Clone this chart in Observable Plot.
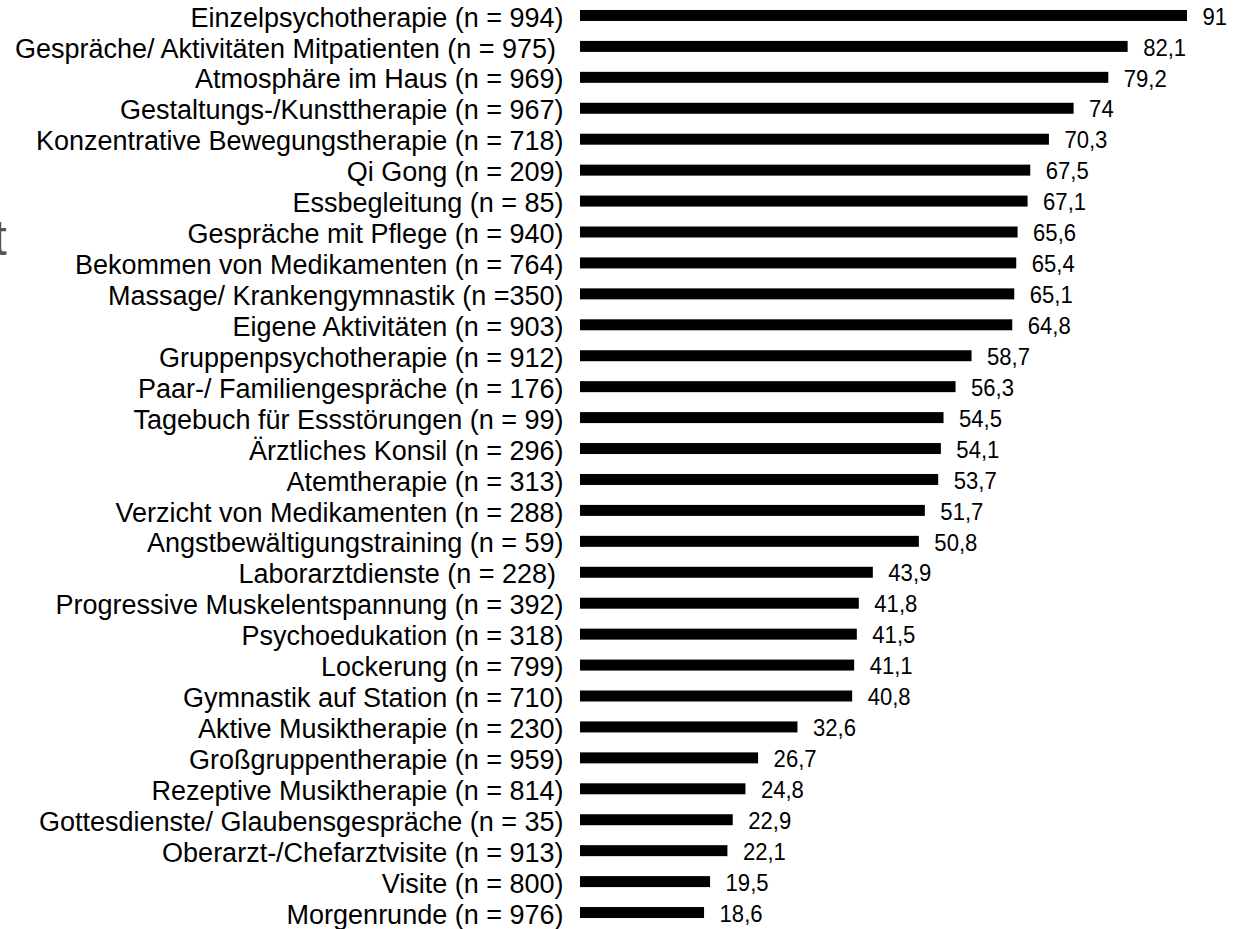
<!DOCTYPE html>
<html>
<head>
<meta charset="utf-8">
<script src="https://cdn.jsdelivr.net/npm/d3@7"></script>
<script src="https://cdn.jsdelivr.net/npm/@observablehq/plot@0.6"></script>
<style>
  html, body { margin: 0; padding: 0; background: #fff; overflow: hidden; }
  #wrap { position: relative; width: 1243px; height: 929px; }
  #frag { position: absolute; left: -7px; top: 213px; font-family: "Liberation Sans", Arial, sans-serif; font-size: 50px; color: #555; line-height: 1; }
  svg text { white-space: pre; }
</style>
</head>
<body>
<div id="wrap">
  <div id="frag">t</div>
  <div id="chart"></div>
</div>
<script>
const categories = [
  "Einzelpsychotherapie (n = 994)",
  "Gespräche/ Aktivitäten Mitpatienten (n = 975) ",
  "Atmosphäre im Haus (n = 969)",
  "Gestaltungs-/Kunsttherapie (n = 967)",
  "Konzentrative Bewegungstherapie (n = 718)",
  "Qi Gong (n = 209)",
  "Essbegleitung (n = 85)",
  "Gespräche mit Pflege (n = 940)",
  "Bekommen von Medikamenten (n = 764)",
  "Massage/ Krankengymnastik (n =350)",
  "Eigene Aktivitäten (n = 903)",
  "Gruppenpsychotherapie (n = 912)",
  "Paar-/ Familiengespräche (n = 176)",
  "Tagebuch für Essstörungen (n = 99)",
  "Ärztliches Konsil (n = 296)",
  "Atemtherapie (n = 313)",
  "Verzicht von Medikamenten (n = 288)",
  "Angstbewältigungstraining (n = 59)",
  "Laborarztdienste (n = 228) ",
  "Progressive Muskelentspannung (n = 392)",
  "Psychoedukation (n = 318)",
  "Lockerung (n = 799)",
  "Gymnastik auf Station (n = 710)",
  "Aktive Musiktherapie (n = 230)",
  "Großgruppentherapie (n = 959)",
  "Rezeptive Musiktherapie (n = 814)",
  "Gottesdienste/ Glaubensgespräche (n = 35)",
  "Oberarzt-/Chefarztvisite (n = 913)",
  "Visite (n = 800)",
  "Morgenrunde (n = 976)"
];
const values = [91, 82.1, 79.2, 74, 70.3, 67.5, 67.1, 65.6, 65.4, 65.1, 64.8, 58.7, 56.3, 54.5, 54.1, 53.7, 51.7, 50.8, 43.9, 41.8, 41.5, 41.1, 40.8, 32.6, 26.7, 24.8, 22.9, 22.1, 19.5, 18.6];

const data = categories.map((c, i) => ({category: c, value: values[i], label: String(values[i]).replace(".", ",")}));

const chart = Plot.plot({
  width: 1243,
  height: 929,
  marginLeft: 580,
  marginRight: 56,
  marginTop: 0,
  marginBottom: 1,
  style: {fontFamily: "'Liberation Sans', Arial, sans-serif", fontSize: "27px", color: "#000", background: "#fff"},
  x: {domain: [0, 91], axis: null},
  y: {domain: categories, paddingInner: 0.645, paddingOuter: 0.3225, round: false, label: null},
  marks: [
    Plot.barX(data, {x: "value", y: "category", fill: "#000"}),
    Plot.text(data, {x: "value", y: "category", text: "label", textAnchor: "start", dx: 15, dy: 1, fill: "#000", fontSize: 24}),
    Plot.axisY({tickSize: 0, tickPadding: 17, fontSize: 27, dy: 2, label: null, tickFormat: d => d})
  ]
});
document.getElementById("chart").appendChild(chart);
// value labels appear slightly condensed in the reference
chart.querySelectorAll('g[aria-label="text"] text').forEach(t => {
  const len = t.getComputedTextLength();
  t.setAttribute("textLength", (len * 0.92).toFixed(2));
  t.setAttribute("lengthAdjust", "spacingAndGlyphs");
});
</script>
</body>
</html>
